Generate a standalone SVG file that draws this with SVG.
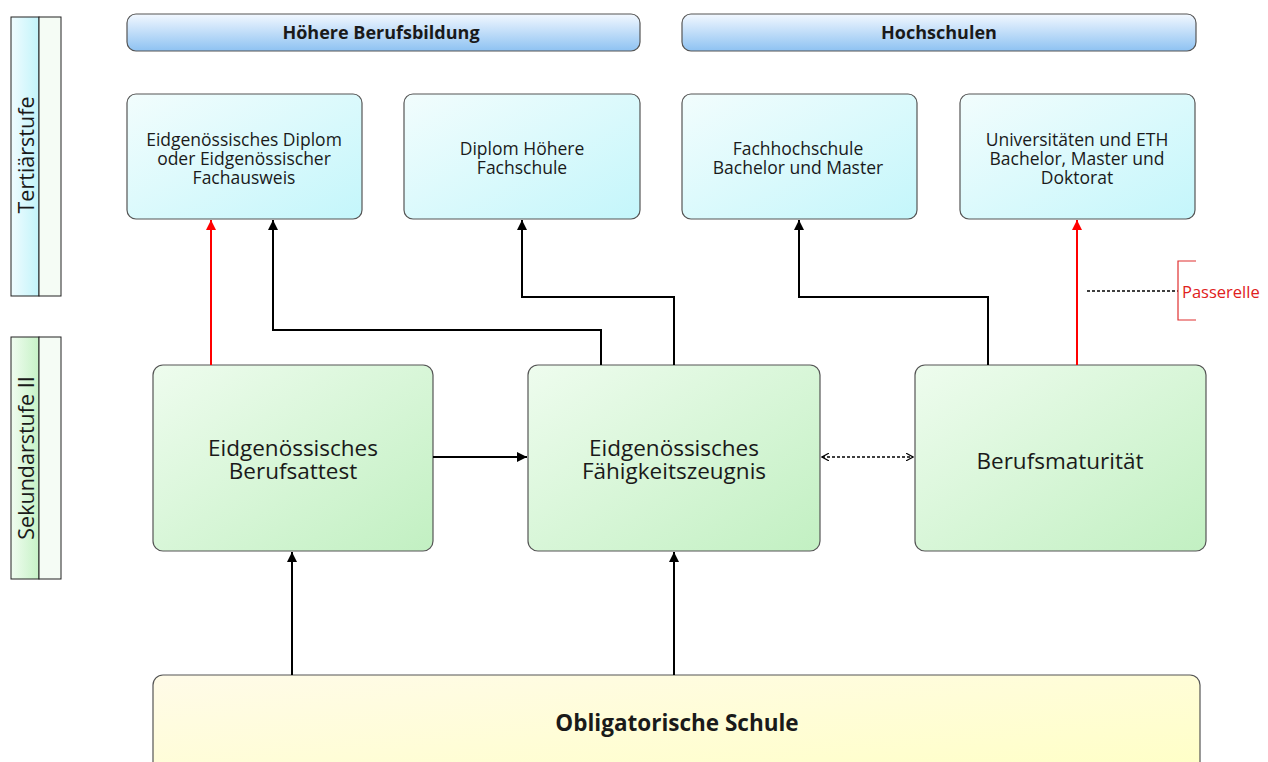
<svg xmlns="http://www.w3.org/2000/svg" width="1268" height="762" viewBox="0 0 1268 762">
<defs>
<linearGradient id="gHead" x1="0" y1="0" x2="0" y2="1"><stop offset="0" stop-color="#f2f8ff"/><stop offset="1" stop-color="#8ec2f2"/></linearGradient>
<linearGradient id="gTert" x1="0" y1="0" x2="1" y2="1"><stop offset="0" stop-color="#f2fdfd"/><stop offset="1" stop-color="#c4f6fb"/></linearGradient>
<linearGradient id="gSek" x1="0" y1="0" x2="1" y2="1"><stop offset="0" stop-color="#eefcee"/><stop offset="1" stop-color="#c2f0c2"/></linearGradient>
<linearGradient id="gObl" x1="0" y1="0" x2="1" y2="1"><stop offset="0" stop-color="#fffbe8"/><stop offset="1" stop-color="#ffffc6"/></linearGradient>
<linearGradient id="gBarT" x1="0" y1="0" x2="1" y2="0"><stop offset="0" stop-color="#f0fcff"/><stop offset="1" stop-color="#c2f4fa"/></linearGradient>
<linearGradient id="gBarS" x1="0" y1="0" x2="1" y2="0"><stop offset="0" stop-color="#f0fcf0"/><stop offset="1" stop-color="#c6f2c6"/></linearGradient>
<marker id="aBlackL" viewBox="0 0 10 10" refX="10" refY="5" markerWidth="12" markerHeight="10" markerUnits="userSpaceOnUse" orient="auto"><path d="M0,0 L10,5 L0,10 Z" fill="#000"/></marker>
<marker id="aRed" viewBox="0 0 10 10" refX="10" refY="5" markerWidth="12" markerHeight="10" markerUnits="userSpaceOnUse" orient="auto"><path d="M0,0 L10,5 L0,10 Z" fill="#ff0000"/></marker>
<marker id="aOpen" viewBox="0 0 10 10" refX="9" refY="5" markerWidth="8" markerHeight="8" markerUnits="userSpaceOnUse" orient="auto-start-reverse"><path d="M0,0 L9,5 L0,10" fill="none" stroke="#000" stroke-width="1.5"/></marker>
</defs>
<style>
text{font-family:"Open Sans","Noto Sans","DejaVu Sans",sans-serif;fill:#1a1a1a;text-anchor:middle;dominant-baseline:central}
.box{stroke:#555;stroke-width:1.2}
.bar{stroke:#222;stroke-width:1}
.t16{font-size:17.5px}
.t20{font-size:22.5px}
.hd{font-size:18px;font-weight:bold}
.side{font-size:21.5px}
.ln{fill:none;stroke:#000;stroke-width:2}
.lr{fill:none;stroke:#ff0000;stroke-width:2}
</style>
<rect width="1268" height="762" fill="#fff"/>

<g id="stufe-tertiaer">
<rect x="11" y="17" width="28" height="279" fill="url(#gBarT)" class="bar"/>
<rect x="39" y="17" width="22" height="279" fill="#f5fcf5" class="bar"/>
<text x="25" y="155" transform="rotate(-90 25 155)" class="side">Tertiärstufe</text>
</g>
<g id="stufe-sekundar">
<rect x="11" y="337" width="28" height="242" fill="url(#gBarS)" class="bar"/>
<rect x="39" y="337" width="22" height="242" fill="#f5fcf5" class="bar"/>
<text x="25" y="458" transform="rotate(-90 25 458)" class="side">Sekundarstufe II</text>
</g>

<g id="head-hbb">
<rect x="127" y="14" width="513" height="37" rx="9" fill="url(#gHead)" class="box"/>
<text x="381" y="32" class="hd">Höhere Berufsbildung</text>
</g>
<g id="head-hs">
<rect x="682" y="14" width="514" height="37" rx="9" fill="url(#gHead)" class="box"/>
<text x="939" y="32" class="hd">Hochschulen</text>
</g>

<g id="n-diplom">
<rect x="127" y="94" width="235" height="125" rx="9" fill="url(#gTert)" class="box"/>
<text class="t16"><tspan x="244" y="139">Eidgenössisches Diplom</tspan><tspan x="244" y="158">oder Eidgenössischer</tspan><tspan x="244" y="177">Fachausweis</tspan></text>
</g>
<g id="n-hf">
<rect x="404" y="94" width="236" height="125" rx="9" fill="url(#gTert)" class="box"/>
<text class="t16"><tspan x="522" y="148">Diplom Höhere</tspan><tspan x="522" y="167">Fachschule</tspan></text>
</g>
<g id="n-fh">
<rect x="682" y="94" width="235" height="125" rx="9" fill="url(#gTert)" class="box"/>
<text class="t16"><tspan x="798" y="148">Fachhochschule</tspan><tspan x="798" y="167">Bachelor und Master</tspan></text>
</g>
<g id="n-uni">
<rect x="960" y="94" width="235" height="125" rx="9" fill="url(#gTert)" class="box"/>
<text class="t16"><tspan x="1077" y="139">Universitäten und ETH</tspan><tspan x="1077" y="158">Bachelor, Master und</tspan><tspan x="1077" y="177">Doktorat</tspan></text>
</g>

<g id="n-eba">
<rect x="153" y="365" width="280" height="186" rx="10" fill="url(#gSek)" class="box"/>
<text class="t20"><tspan x="293" y="447">Eidgenössisches</tspan><tspan x="293" y="470">Berufsattest</tspan></text>
</g>
<g id="n-efz">
<rect x="528" y="365" width="292" height="186" rx="10" fill="url(#gSek)" class="box"/>
<text class="t20"><tspan x="674" y="447">Eidgenössisches</tspan><tspan x="674" y="470">Fähigkeitszeugnis</tspan></text>
</g>
<g id="n-bm">
<rect x="915" y="365" width="291" height="186" rx="10" fill="url(#gSek)" class="box"/>
<text x="1060" y="460" class="t20">Berufsmaturität</text>
</g>

<g id="n-obl">
<rect x="153" y="675" width="1047" height="100" rx="10" fill="url(#gObl)" class="box"/>
<text x="677" y="722" style="font-size:22.5px;font-weight:bold">Obligatorische Schule</text>
</g>

<g id="connectors">
<line x1="211" y1="365" x2="211" y2="220" class="lr" marker-end="url(#aRed)"/>
<path d="M601,365 V330 H273 V220" class="ln" marker-end="url(#aBlackL)"/>
<path d="M674,365 V297 H522 V220" class="ln" marker-end="url(#aBlackL)"/>
<path d="M988,365 V297 H799 V220" class="ln" marker-end="url(#aBlackL)"/>
<line x1="1077" y1="365" x2="1077" y2="220" class="lr" marker-end="url(#aRed)"/>
<line x1="433" y1="457" x2="527" y2="457" class="ln" marker-end="url(#aBlackL)"/>
<line x1="822" y1="457" x2="913" y2="457" fill="none" stroke="#000" stroke-width="1.5" stroke-dasharray="3,2" marker-start="url(#aOpen)" marker-end="url(#aOpen)"/>
<line x1="292" y1="675" x2="292" y2="552" class="ln" marker-end="url(#aBlackL)"/>
<line x1="674" y1="675" x2="674" y2="552" class="ln" marker-end="url(#aBlackL)"/>
<line x1="1087" y1="291" x2="1178" y2="291" fill="none" stroke="#000" stroke-width="1.5" stroke-dasharray="3,2"/>
<path d="M1196,261 H1178 V320 H1196" fill="none" stroke="#e03030" stroke-width="1.2"/>
</g>
<text x="1182" y="291" style="font-size:16.5px;fill:#e02020;text-anchor:start">Passerelle</text>
</svg>
